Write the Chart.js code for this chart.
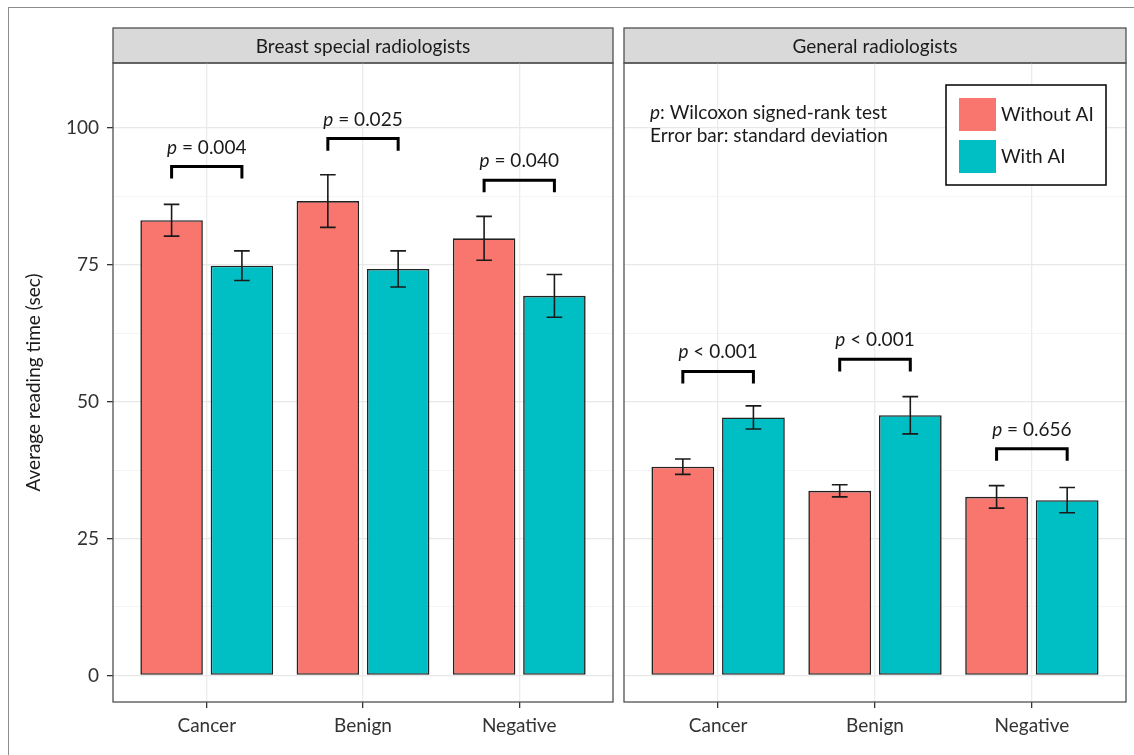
<!DOCTYPE html>
<html>
<head>
<meta charset="utf-8">
<script src="https://cdn.jsdelivr.net/npm/chart.js@4.4.1/dist/chart.umd.min.js"></script>
<style>
  html, body { margin: 0; padding: 0; background: #fff; }
  #wrap { position: relative; width: 1134px; height: 755px; overflow: hidden; }
  #frame { position: absolute; left: 8px; top: 7px; width: 2000px; height: 2000px;
           border-left: 1.5px solid #8c8c8c; border-top: 1.5px solid #8c8c8c; }
  #breastChart { position: absolute; left: 0; top: 0; }
  #generalChart { position: absolute; left: 618px; top: 0; }
</style>
</head>
<body>
<div id="wrap">
  <div id="frame"></div>
  <canvas id="breastChart" width="618" height="755"></canvas>
  <canvas id="generalChart" width="516" height="755"></canvas>
</div>
<script>
// ------- data -------
const categories = ['Cancer', 'Benign', 'Negative'];
const seriesNames = ['Without AI', 'With AI'];
const yTicks = [0, 25, 50, 75, 100];
const yMinorTicks = [12.5, 37.5, 62.5, 87.5];

const breastWithout = [83.1, 86.6, 79.8];
const breastWithoutSd = [2.9, 4.8, 4.0];
const breastWith = [74.8, 74.2, 69.3];
const breastWithSd = [2.7, 3.3, 3.9];
const breastPText = ['= 0.004', '= 0.025', '= 0.040'];
const breastPLevel = [92.9, 98.0, 90.4];

const generalWithout = [38.1, 33.7, 32.6];
const generalWithoutSd = [1.4, 1.1, 2.05];
const generalWith = [47.1, 47.5, 32.0];
const generalWithSd = [2.1, 3.4, 2.3];
const generalPText = ['< 0.001', '< 0.001', '= 0.656'];
const generalPLevel = [55.5, 57.7, 41.4];

const colors = ['#F8766D', '#00BFC4'];
const FONT = 'Lato';
const FS = 19;

// draws "p" in italics followed by the rest
function drawP(ctx, rest, x, y, align) {
  ctx.font = 'italic ' + FS + 'px ' + FONT;
  const wp = ctx.measureText('p').width;
  ctx.font = FS + 'px ' + FONT;
  const wr = ctx.measureText(rest).width;
  let x0 = align === 'center' ? x - (wp + wr) / 2 : x;
  ctx.textAlign = 'left';
  ctx.font = 'italic ' + FS + 'px ' + FONT;
  ctx.fillText('p', x0, y);
  ctx.font = FS + 'px ' + FONT;
  ctx.fillText(rest, x0 + wp, y);
}

const panelPlugin = {
  id: 'panel',
  beforeDraw(chart, args, o) {
    const a = chart.chartArea, ctx = chart.ctx;
    ctx.save();
    ctx.fillStyle = '#D9D9D9';
    ctx.fillRect(a.left, 28, a.right - a.left, a.top - 28);
    ctx.strokeStyle = '#505050';
    ctx.lineWidth = 1.3;
    ctx.strokeRect(a.left, 28, a.right - a.left, a.top - 28);
    ctx.fillStyle = '#1a1a1a';
    ctx.font = FS + 'px ' + FONT;
    ctx.textAlign = 'center';
    ctx.textBaseline = 'middle';
    ctx.fillText(o.title, (a.left + a.right) / 2, (28 + a.top) / 2 + 1);
    ctx.restore();
  },
  afterDatasetsDraw(chart, args, o) {
    const ctx = chart.ctx, x = chart.scales.x, y = chart.scales.y;
    const capHalf = x.getPixelForValue(1.05) - x.getPixelForValue(1);
    ctx.save();
    // error bars
    ctx.strokeStyle = '#1a1a1a';
    ctx.lineWidth = 1.6;
    chart.data.datasets.forEach((ds, d) => {
      const meta = chart.getDatasetMeta(d);
      meta.data.forEach((bar, i) => {
        const m = ds.data[i].y, sd = o.sds[d][i];
        const yt = y.getPixelForValue(m + sd), yb = y.getPixelForValue(m - sd);
        ctx.beginPath();
        ctx.moveTo(bar.x, yt); ctx.lineTo(bar.x, yb);
        ctx.moveTo(bar.x - capHalf, yt); ctx.lineTo(bar.x + capHalf, yt);
        ctx.moveTo(bar.x - capHalf, yb); ctx.lineTo(bar.x + capHalf, yb);
        ctx.stroke();
      });
    });
    // significance brackets
    const m0 = chart.getDatasetMeta(0), m1 = chart.getDatasetMeta(1);
    ctx.strokeStyle = '#000';
    ctx.lineWidth = 3;
    ctx.fillStyle = '#1a1a1a';
    ctx.textBaseline = 'alphabetic';
    o.pLevel.forEach((lv, i) => {
      const x0 = m0.data[i].x, x1 = m1.data[i].x;
      const yl = y.getPixelForValue(lv), yleg = y.getPixelForValue(lv - 2.2);
      ctx.beginPath();
      ctx.moveTo(x0, yleg); ctx.lineTo(x0, yl); ctx.lineTo(x1, yl); ctx.lineTo(x1, yleg);
      ctx.stroke();
      drawP(ctx, ' ' + o.pText[i], (x0 + x1) / 2, yl - 13, 'center');
    });
    ctx.restore();
  },
  afterDraw(chart, args, o) {
    const a = chart.chartArea, ctx = chart.ctx;
    ctx.save();
    ctx.strokeStyle = '#505050';
    ctx.lineWidth = 1.3;
    ctx.strokeRect(a.left, a.top, a.right - a.left, a.bottom - a.top);
    if (o.note) {
      ctx.fillStyle = '#1a1a1a';
      ctx.textBaseline = 'middle';
      drawP(ctx, ': Wilcoxon signed-rank test', a.left + 26, 113, 'left');
      ctx.textAlign = 'left';
      ctx.fillText('Error bar: standard deviation', a.left + 26, 136);
      // legend
      const bx = a.right - 180, by = 85, bw = 160, bh = 100;
      ctx.fillStyle = '#fff';
      ctx.fillRect(bx, by, bw, bh);
      ctx.strokeStyle = '#000';
      ctx.lineWidth = 1.5;
      ctx.strokeRect(bx, by, bw, bh);
      chart.data.datasets.forEach((ds, d) => {
        ctx.fillStyle = ds.backgroundColor;
        ctx.fillRect(bx + 13, by + 13 + d * 42, 37, 33);
        ctx.fillStyle = '#1a1a1a';
        ctx.font = FS + 'px ' + FONT;
        ctx.fillText(ds.label, bx + 55, by + 30 + d * 42);
      });
    }
    ctx.restore();
  }
};

function makeConfig(withoutVals, withVals, opts) {
  return {
    type: 'bar',
    data: {
      datasets: [
        {
          label: seriesNames[0],
          data: withoutVals.map((v, i) => ({ x: i + 1, y: v })),
          backgroundColor: colors[0],
        },
        {
          label: seriesNames[1],
          data: withVals.map((v, i) => ({ x: i + 1, y: v })),
          backgroundColor: colors[1],
        }
      ]
    },
    options: {
      responsive: false,
      animation: false,
      categoryPercentage: 0.9,
      barPercentage: 0.8889,
      elements: {
        bar: { borderWidth: 1.6, borderColor: '#222', borderSkipped: false }
      },
      layout: { padding: opts.padding },
      scales: {
        x: {
          type: 'linear',
          min: 0.4,
          max: 3.6,
          offset: false,
          afterBuildTicks: (s) => { s.ticks = categories.map((c, i) => ({ value: i + 1 })); },
          afterFit: (s) => { s.height = 53; },
          border: { display: false },
          grid: { offset: false, color: '#EBEBEB', lineWidth: 1.3, tickLength: 6, tickColor: '#333' },
          ticks: {
            autoSkip: false, maxRotation: 0, padding: 6, color: '#333',
            font: { family: FONT, size: FS },
            callback: (v) => categories[v - 1] || ''
          }
        },
        y: {
          min: -4.85,
          max: 111.8,
          afterBuildTicks: (s) => {
            s.ticks = yTicks.concat(yMinorTicks).sort((p, q) => p - q).map(v => ({ value: v }));
          },
          afterFit: (s) => { s.width = opts.yWidth; },
          border: { display: false },
          grid: {
            color: (c) => (c.tick && c.tick.value % 25 === 0) ? '#E8E8E8' : '#F1F1F1',
            lineWidth: (c) => (c.tick && c.tick.value % 25 === 0) ? 1.3 : 0.8,
            drawTicks: opts.showY,
            tickLength: 6,
            tickColor: (c) => (c.tick && c.tick.value % 25 === 0) ? '#333' : 'rgba(0,0,0,0)'
          },
          ticks: {
            display: opts.showY,
            padding: 8,
            color: '#333',
            font: { family: FONT, size: FS },
            callback: (v) => yTicks.includes(v) ? String(v) : ''
          },
          title: {
            display: opts.showY,
            text: 'Average reading time (sec)',
            color: '#1a1a1a',
            font: { family: FONT, size: FS },
            padding: { top: 12 }
          }
        }
      },
      plugins: {
        legend: { display: false },
        tooltip: { enabled: false },
        panel: opts.panel
      }
    },
    plugins: [panelPlugin]
  };
}

// -------breast special radiologists------------
const breastChart = new Chart(document.getElementById('breastChart'), makeConfig(breastWithout, breastWith, {
  padding: { left: 10, right: 5, top: 63, bottom: 0 },
  yWidth: 103,
  showY: true,
  panel: {
    title: 'Breast special radiologists',
    sds: [breastWithoutSd, breastWithSd],
    pText: breastPText,
    pLevel: breastPLevel,
    note: false
  }
}));

// -------general radiologists------------
const generalChart = new Chart(document.getElementById('generalChart'), makeConfig(generalWithout, generalWith, {
  padding: { left: 6, right: 8, top: 63, bottom: 0 },
  yWidth: 0,
  showY: false,
  panel: {
    title: 'General radiologists',
    sds: [generalWithoutSd, generalWithSd],
    pText: generalPText,
    pLevel: generalPLevel,
    note: true
  }
}));
</script>
</body>
</html>
